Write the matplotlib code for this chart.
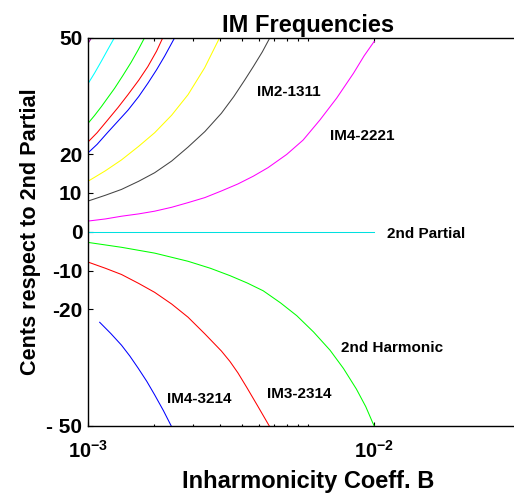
import matplotlib
matplotlib.use('Agg')
import matplotlib.pyplot as plt
from matplotlib.ticker import FixedLocator, NullFormatter

plt.rcParams['font.family'] = ['Liberation Sans', 'DejaVu Sans']
plt.rcParams['font.weight'] = 'bold'
plt.rcParams['mathtext.fontset'] = 'custom'
plt.rcParams['mathtext.rm'] = 'Liberation Sans:bold'
plt.rcParams['mathtext.it'] = 'Liberation Sans:bold'
plt.rcParams['mathtext.bf'] = 'Liberation Sans:bold'

# curves: inharmonicity B (x1e-3) vs cents
b_purple = [1.0, 1.04]
c_purple = [48.5, 50.0]

b_cyan = [1.0, 1.07, 1.15, 1.23, 1.32]
c_cyan = [38.1, 40.8, 43.9, 46.9, 50.0]

b_green = [1.0, 1.07, 1.15, 1.23, 1.32, 1.44, 1.57, 1.69, 1.81]
c_green = [27.9, 29.9, 32.2, 34.5, 36.9, 40.2, 43.6, 46.8, 50.0]

b_red = [1.0, 1.1, 1.23, 1.37, 1.52, 1.7, 1.87, 2.05, 2.19]
c_red = [23.1, 25.5, 28.8, 32.0, 35.3, 39.0, 42.5, 46.5, 50.0]

b_blue = [1.0, 1.1, 1.23, 1.37, 1.52, 1.7, 1.87, 2.05, 2.23, 2.48]
c_blue = [20.3, 22.5, 25.6, 28.5, 31.3, 34.8, 38.2, 41.7, 45.2, 50.0]

b_yellow = [1.0, 1.2, 1.42, 1.7, 2.01, 2.4, 2.85, 3.39, 3.97]
c_yellow = [13.0, 15.7, 18.5, 22.0, 25.5, 30.0, 35.3, 42.2, 50.0]

b_black = [1.0, 1.2, 1.42, 1.7, 2.01, 2.4, 2.85, 3.4, 4.04, 4.6, 5.15, 5.64, 6.2, 6.72]
c_black = [7.9, 9.4, 10.9, 13.0, 15.2, 18.2, 21.8, 25.8, 30.5, 34.8, 39.0, 42.5, 46.3, 50.0]

b_magenta = [1.0, 1.2, 1.42, 1.7, 2.01, 2.4, 2.85, 3.4, 4.04, 4.8, 5.64, 6.58, 8.0,
             9.5, 11.34, 13.5, 16.1, 18.0, 20.0]
c_magenta = [2.75, 3.3, 4.0, 4.6, 5.3, 6.3, 7.5, 8.8, 10.5, 12.3, 14.3, 16.5, 19.9,
             23.6, 28.8, 34.4, 40.8, 45.3, 49.0]

b_partial = [1.0, 20.0]
c_partial = [0.0, 0.0]

b_harm = [1.0, 1.42, 2.01, 2.85, 3.6, 4.42, 5.3, 6.26, 7.5, 8.89, 10.6, 12.6, 14.5,
          16.6, 18.3, 19.7, 20.0]
c_harm = [-2.74, -4.0, -5.5, -7.6, -9.4, -11.3, -13.2, -15.2, -18.3, -21.6, -25.8,
          -30.5, -35.2, -40.5, -45.0, -49.2, -50.0]

b_im3 = [1.0, 1.2, 1.42, 1.7, 2.01, 2.4, 2.85, 3.4, 4.04, 4.42, 4.8, 5.26, 5.9, 6.67]
c_im3 = [-7.8, -9.4, -11.0, -13.3, -15.6, -18.6, -22.0, -26.3, -30.7, -33.4, -36.3,
         -40.0, -44.8, -50.0]

b_im4 = [1.13, 1.27, 1.42, 1.55, 1.69, 1.85, 2.01, 2.2, 2.39]
c_im4 = [-23.3, -26.2, -29.2, -32.0, -35.1, -38.5, -42.0, -46.0, -50.0]

y_ticks = [-50, -20, -10, 0, 10, 20, 50]
y_labels = ['- 50', '-20', '-10', '0', '10', '20', '50']
x_major = [1e-3, 2e-2]
x_labels = ['$10^{-3}$', '$10^{-2}$']
x_minor = [2e-3, 3e-3, 4e-3, 5e-3, 6e-3, 7e-3, 8e-3, 9e-3, 1e-2]

fig = plt.figure(figsize=(5.14, 4.95), dpi=100)
ax = fig.add_axes([0.1712, 0.1394, 0.8560, 0.7848])

def sc(b):
    return [v * 1e-3 for v in b]

lw = 0.75
ax.plot(sc(b_purple), c_purple, color='#990099', lw=lw)
ax.plot(sc(b_cyan), c_cyan, color='#00ffff', lw=lw)
ax.plot(sc(b_green), c_green, color='#00ff00', lw=lw)
ax.plot(sc(b_red), c_red, color='#ff0000', lw=lw)
ax.plot(sc(b_blue), c_blue, color='#0000ff', lw=lw)
ax.plot(sc(b_yellow), c_yellow, color='#ffff00', lw=lw)
ax.plot(sc(b_black), c_black, color='#444444', lw=lw)
ax.plot(sc(b_magenta), c_magenta, color='#ff00ff', lw=lw)
ax.plot(sc(b_partial), c_partial, color='#00e0e0', lw=lw)
ax.plot(sc(b_harm), c_harm, color='#00ff00', lw=lw)
ax.plot(sc(b_im3), c_im3, color='#ff0000', lw=lw)
ax.plot(sc(b_im4), c_im4, color='#0000ff', lw=lw)

ax.set_xscale('log')
ax.set_xlim(1e-3, 1e-1)
ax.set_ylim(-50, 50)

ax.xaxis.set_major_locator(FixedLocator(x_major))
ax.set_xticklabels(x_labels)
ax.xaxis.set_minor_locator(FixedLocator(x_minor))
ax.xaxis.set_minor_formatter(NullFormatter())
ax.set_yticks(y_ticks)
ax.set_yticklabels(y_labels)

ax.tick_params(which='both', direction='in', top=True, right=False, width=0.8)
ax.tick_params(axis='x', which='major', length=3, labelsize=14.5, pad=10)
ax.tick_params(axis='x', which='minor', length=1.8)
ax.tick_params(axis='y', which='major', length=3.5, labelsize=15, pad=4)
ax.spines['right'].set_visible(False)
for s in ['left', 'top', 'bottom']:
    ax.spines[s].set_linewidth(1.0)

lab = dict(fontsize=11, fontweight='bold', ha='left', va='baseline')
ax.text(5.86e-3, 34.9, 'IM2-1311', **lab)
ax.text(1.259e-2, 23.6, 'IM4-2221', **lab)
ax.text(2.28e-2, -1.7, '2nd Partial', **lab)
ax.text(1.42e-2, -30.9, '2nd Harmonic', **lab)
ax.text(6.52e-3, -42.9, 'IM3-2314', **lab)
ax.text(2.28e-3, -44.2, 'IM4-3214', **lab)

ax.set_title('IM Frequencies', fontsize=17, fontweight='bold', pad=4)
ax.set_xlabel('Inharmonicity Coeff. B', fontsize=17, fontweight='bold', labelpad=6)
ax.set_ylabel('Cents respect to 2nd Partial', fontsize=15.6, fontweight='bold', labelpad=4)

fig.savefig('out.png', dpi=100)
